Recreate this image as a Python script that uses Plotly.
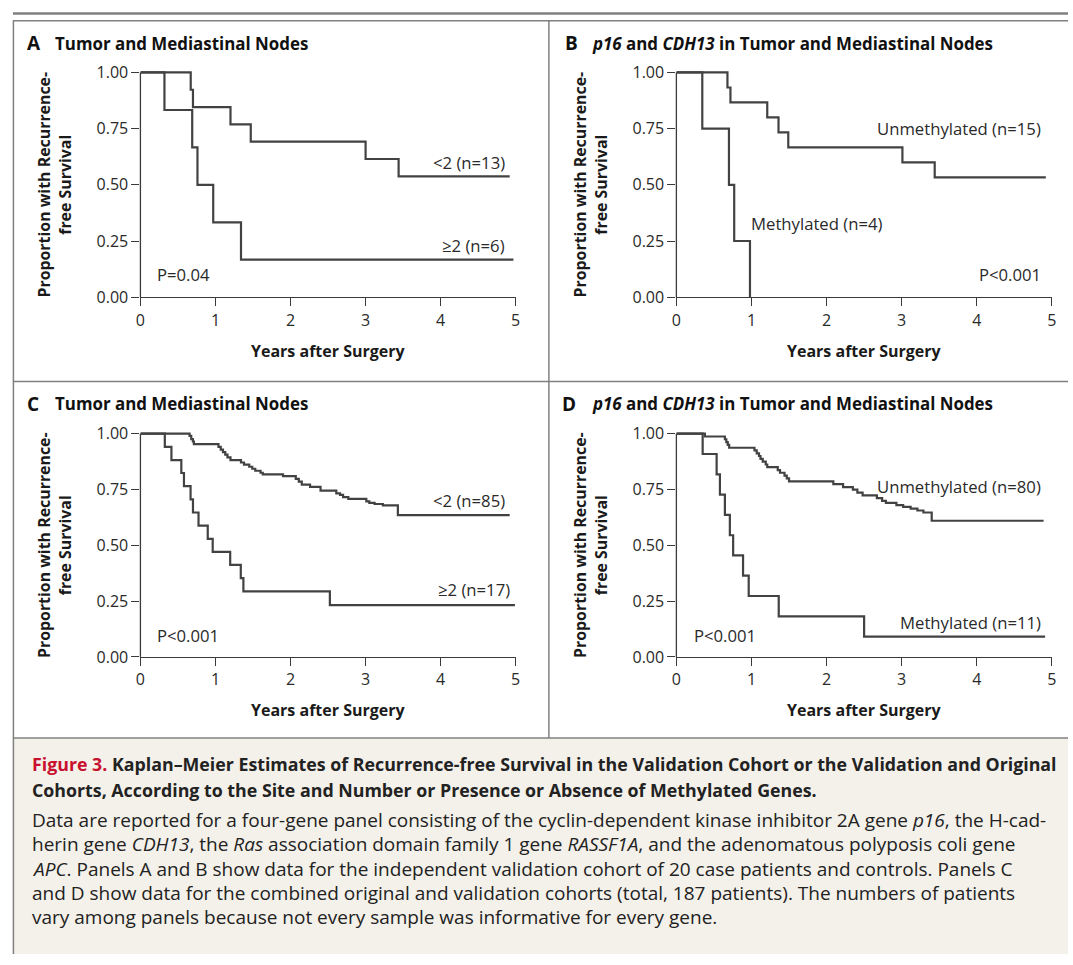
import plotly.graph_objects as go

# ---------------- data ----------------
A_lt2_t = [0, 0.67, 0.70, 1.20, 1.47, 3.00, 3.44, 4.92]
A_lt2_s = [1, 0.923, 0.846, 0.769, 0.692, 0.615, 0.538, 0.538]
A_ge2_t = [0, 0.32, 0.69, 0.76, 0.97, 1.34, 4.97]
A_ge2_s = [1, 0.833, 0.667, 0.500, 0.333, 0.167, 0.167]

B_un_t = [0, 0.68, 0.72, 1.21, 1.36, 1.49, 3.01, 3.44, 4.92]
B_un_s = [1, 0.933, 0.867, 0.800, 0.733, 0.667, 0.600, 0.533, 0.533]
B_me_t = [0, 0.345, 0.70, 0.77, 0.98]
B_me_s = [1, 0.75, 0.50, 0.25, 0.0]

C_lt2_t = [0, 0.655, 0.677, 0.699, 0.712, 1.04, 1.07, 1.10, 1.13, 1.16, 1.20,
           1.34, 1.38, 1.45, 1.49, 1.53, 1.60, 1.63, 1.90, 2.07, 2.11, 2.15,
           2.26, 2.40, 2.61, 2.66, 2.70, 2.77, 3.01, 3.05, 3.12, 3.23, 3.43, 4.92]
C_lt2_s = [1, 0.990, 0.976, 0.965, 0.953, 0.941, 0.929, 0.917, 0.906, 0.894, 0.882,
           0.871, 0.861, 0.852, 0.843, 0.834, 0.825, 0.818, 0.810, 0.798, 0.785, 0.772,
           0.762, 0.745, 0.733, 0.726, 0.716, 0.708, 0.697, 0.690, 0.685, 0.679, 0.635, 0.635]
C_ge2_t = [0, 0.325, 0.413, 0.545, 0.58, 0.668, 0.70, 0.774, 0.897, 0.963, 1.196,
           1.337, 1.372, 2.524, 4.99]
C_ge2_s = [1, 0.941, 0.882, 0.824, 0.765, 0.706, 0.647, 0.588, 0.529, 0.471, 0.412,
           0.353, 0.294, 0.232, 0.232]

D_un_t = [0, 0.38, 0.646, 0.665, 0.684, 0.703, 1.04, 1.07, 1.10, 1.12, 1.15, 1.19,
          1.21, 1.35, 1.38, 1.44, 1.47, 1.50, 2.09, 2.22, 2.35, 2.41, 2.48, 2.67,
          2.74, 2.79, 2.93, 3.02, 3.12, 3.21, 3.29, 3.40, 4.89]
D_un_s = [1, 0.9875, 0.975, 0.962, 0.950, 0.937, 0.925, 0.912, 0.900, 0.887, 0.875, 0.862,
          0.850, 0.837, 0.825, 0.812, 0.800, 0.786, 0.774, 0.761, 0.749, 0.736, 0.724, 0.711,
          0.699, 0.690, 0.680, 0.672, 0.664, 0.656, 0.647, 0.610, 0.610]
D_me_t = [0, 0.35, 0.536, 0.58, 0.646, 0.712, 0.756, 0.888, 0.963, 1.363, 2.50, 4.91]
D_me_s = [1, 0.909, 0.818, 0.727, 0.636, 0.545, 0.455, 0.364, 0.273, 0.182, 0.091, 0.091]

x_ticks = [0, 1, 2, 3, 4, 5]
y_ticks = [0, 0.25, 0.50, 0.75, 1.00]
y_ticktext = ["0.00", "0.25", "0.50", "0.75", "1.00"]

# ---------------- styling / layout ----------------
W, H = 1073, 965
FONT = "Open Sans"
TXT = "#2a2a2a"
AX = "#3a3a3a"
CURVE = "#424242"
BORDER = "#808080"


def fx(px):
    return px / W


def fy(py):
    return 1 - py / H


# pixel frame of each panel: x at 0 yr, x at 5 yr, y at 0.00, y at 1.00
panels = {
    "A": dict(ax="", x0=136.7, x5=515.5, y0=295.7, y1=66.7),
    "B": dict(ax="2", x0=677.7, x5=1056.7, y0=295.7, y1=66.7),
    "C": dict(ax="3", x0=136.7, x5=515.5, y0=662.3, y1=434.8),
    "D": dict(ax="4", x0=677.7, x5=1056.7, y0=662.3, y1=434.8),
}
YTOP = 1.02

fig = go.Figure()

curves = {
    "A": [(A_lt2_t, A_lt2_s), (A_ge2_t, A_ge2_s)],
    "B": [(B_un_t, B_un_s), (B_me_t, B_me_s)],
    "C": [(C_lt2_t, C_lt2_s), (C_ge2_t, C_ge2_s)],
    "D": [(D_un_t, D_un_s), (D_me_t, D_me_s)],
}

shapes = []
annotations = []
layout_axes = {}

for key, p in panels.items():
    sfx = p["ax"]
    xa, ya = "x" + sfx, "y" + sfx
    for t, s in curves[key]:
        fig.add_trace(go.Scatter(x=t, y=s, mode="lines",
                                 line=dict(shape="hv", color=CURVE, width=2.2),
                                 xaxis=xa, yaxis=ya, hoverinfo="skip",
                                 showlegend=False))
    ytop_px = p["y1"] - (YTOP - 1) * (p["y0"] - p["y1"])
    layout_axes["xaxis" + sfx] = dict(
        domain=[fx(p["x0"]), fx(p["x5"])], range=[0, 5], anchor=ya,
        tickvals=x_ticks, ticks="outside", ticklen=8, tickwidth=1.2, tickcolor=AX,
        showline=True, linecolor=AX, linewidth=1.3, showgrid=False, zeroline=False,
        tickfont=dict(family=FONT, size=16, color=TXT), fixedrange=True)
    layout_axes["yaxis" + sfx] = dict(
        domain=[fy(p["y0"]), fy(ytop_px)], range=[0, YTOP], anchor=xa,
        tickvals=y_ticks, ticktext=y_ticktext, ticks="outside", ticklen=8,
        tickwidth=1.2, tickcolor=AX, showline=False, showgrid=False, zeroline=False,
        tickfont=dict(family=FONT, size=16, color=TXT), fixedrange=True)
    # y axis line from 0.00 to 1.00
    shapes.append(dict(type="line", xref="paper", yref="paper",
                       x0=fx(p["x0"]), x1=fx(p["x0"]),
                       y0=fy(p["y0"]), y1=fy(p["y1"]),
                       line=dict(color=AX, width=1.3)))
    # axis titles
    annotations.append(dict(xref="paper", yref="paper",
                            x=fx((p["x0"] + p["x5"]) / 2), y=fy(p["y0"] + 54.5),
                            text="<b>Years after Surgery</b>", showarrow=False,
                            xanchor="center", yanchor="middle",
                            font=dict(family=FONT, size=16, color="#1a1a1a")))
    annotations.append(dict(xref="paper", yref="paper",
                            x=fx(p["x0"] - 86.5), y=fy((p["y0"] + p["y1"]) / 2),
                            text="<b>Proportion with Recurrence-<br>free Survival</b>",
                            showarrow=False, textangle=-90,
                            xanchor="center", yanchor="middle",
                            font=dict(family=FONT, size=15.9, color="#1a1a1a")))

# panel titles
titles = [
    ("A", 20, 36.7, "Tumor and Mediastinal Nodes", 48),
    ("B", 563, 36.7, "<i>p16</i> and <i>CDH13</i> in Tumor and Mediastinal Nodes", 590),
    ("C", 20, 404.3, "Tumor and Mediastinal Nodes", 48),
    ("D", 560, 404.3, "<i>p16</i> and <i>CDH13</i> in Tumor and Mediastinal Nodes", 590),
]
for letter, lx, ty, text, tx in titles:
    annotations.append(dict(xref="paper", yref="paper", x=fx(lx), y=fy(ty),
                            text="<b>" + letter + "</b>", showarrow=False,
                            xanchor="left", yanchor="middle",
                            font=dict(family=FONT, size=19, color="#111111")))
    annotations.append(dict(xref="paper", yref="paper", x=fx(tx), y=fy(ty),
                            text="<b>" + text + "</b>", showarrow=False,
                            xanchor="left", yanchor="middle",
                            font=dict(family=FONT, size=16.9, color="#111111")))

# in-plot labels
labels = [
    ("", 4.89, 0.60, "<2 (n=13)", "right"),
    ("", 4.89, 0.23, "≥2 (n=6)", "right"),
    ("", 0.19, 0.10, "P=0.04", "left"),
    ("2", 4.88, 0.75, "Unmethylated (n=15)", "right"),
    ("2", 0.97, 0.33, "Methylated (n=4)", "left"),
    ("2", 4.88, 0.10, "P<0.001", "right"),
    ("3", 4.89, 0.70, "<2 (n=85)", "right"),
    ("3", 4.95, 0.30, "≥2 (n=17)", "right"),
    ("3", 0.19, 0.095, "P<0.001", "left"),
    ("4", 4.88, 0.765, "Unmethylated (n=80)", "right"),
    ("4", 4.88, 0.154, "Methylated (n=11)", "right"),
    ("4", 0.21, 0.095, "P<0.001", "left"),
]
for sfx, x, y, text, anchor in labels:
    annotations.append(dict(xref="x" + sfx, yref="y" + sfx, x=x, y=y, text=text,
                            showarrow=False, xanchor=anchor, yanchor="middle",
                            font=dict(family=FONT, size=16.7, color=TXT)))

# caption
cap_lines = [
    (771.7, "<b><span style='color:#c8102e'>Figure 3.</span> Kaplan–Meier Estimates of "
            "Recurrence-free Survival in the Validation Cohort or the Validation and Original</b>", 17.8),
    (798.3, "<b>Cohorts, According to the Site and Number or Presence or Absence of "
            "Methylated Genes.</b>", 17.8),
    (828.3, "Data are reported for a four-gene panel consisting of the cyclin-dependent "
            "kinase inhibitor 2A gene <i>p16</i>, the H-cad-", 19),
    (853.3, "herin gene <i>CDH13</i>, the <i>Ras</i> association domain family 1 gene "
            "<i>RASSF1A</i>, and the adenomatous polyposis coli gene", 19),
    (878.0, "<i>APC</i>. Panels A and B show data for the independent validation cohort "
            "of 20 case patients and controls. Panels C", 19),
    (902.8, "and D show data for the combined original and validation cohorts "
            "(total, 187 patients). The numbers of patients", 19),
    (927.5, "vary among panels because not every sample was informative for every gene.", 19),
]
for y, text, size in cap_lines:
    annotations.append(dict(xref="paper", yref="paper", x=fx(25), y=fy(y), text=text,
                            showarrow=False, xanchor="left", yanchor="middle",
                            font=dict(family=FONT, size=size, color="#222222")))

# frame & caption background
shapes.insert(0, dict(type="rect", xref="paper", yref="paper", x0=fx(8), x1=1,
                      y0=0, y1=fy(745), fillcolor="#f4f1ea", line=dict(width=0),
                      layer="below"))
frame_lines = [
    (8, 6.5, W, 6.5, 2.5),
    (8, 14, W, 14, 1.5),
    (8.5, 14, 8.5, H, 1.5),
    (549, 14, 549, 745, 1.5),
    (8, 381.5, W, 381.5, 1.5),
    (8, 745, W, 745, 1.5),
]
for x0, y0, x1, y1, w in frame_lines:
    shapes.append(dict(type="line", xref="paper", yref="paper",
                       x0=fx(x0), y0=fy(y0), x1=fx(x1), y1=fy(y1),
                       line=dict(color=BORDER, width=w)))

fig.update_layout(width=W, height=H, margin=dict(l=0, r=0, t=0, b=0),
                  paper_bgcolor="white", plot_bgcolor="rgba(0,0,0,0)",
                  shapes=shapes, annotations=annotations, showlegend=False,
                  **layout_axes)

fig.write_html("out.html", config={"displayModeBar": False},
               post_script="document.body.style.margin='0';"
                           "document.body.style.padding='0';"
                           "document.documentElement.style.overflow='hidden';")
